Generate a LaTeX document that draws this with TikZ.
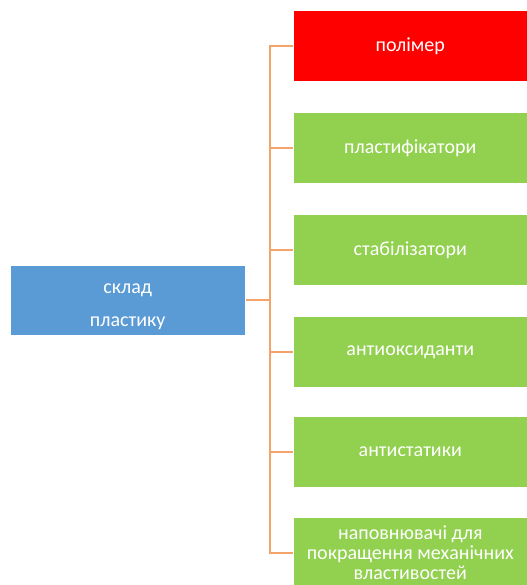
\documentclass[tikz,border=0pt]{standalone}
\usepackage{fontspec}
\setmainfont{Carlito}
\definecolor{cred}{HTML}{FF0000}
\definecolor{cgreen}{HTML}{92D050}
\definecolor{cblue}{HTML}{5B9BD5}
\definecolor{cline}{HTML}{F4A46A}
\begin{document}
\begin{tikzpicture}[x=0.75pt,y=-0.75pt,
  box/.style={draw=white,line width=0.4pt,minimum width=234*0.75pt,minimum height=71*0.75pt,inner sep=2pt,text=white,font=\fontsize{15}{16}\selectfont,align=center,anchor=west},
  link/.style={draw=cline,line width=1pt}]
\useasboundingbox (0,0) rectangle (527,585);
\clip (0,0) rectangle (527,585);
\fill[white] (0,0) rectangle (527,585);
\node[box,fill=cblue,minimum width=235*0.75pt,minimum height=70*0.75pt,font=\fontsize{15}{25}\selectfont] (root) at (10,300) {\rule{0pt}{17pt}склад\\пластику};
\node[box,fill=cred] (b1) at (293,46) {полімер};
\node[box,fill=cgreen] (b2) at (293,148) {пластифікатори};
\node[box,fill=cgreen] (b3) at (293,250) {стабілізатори};
\node[box,fill=cgreen] (b4) at (293,352) {антиоксиданти};
\node[box,fill=cgreen] (b5) at (293,452) {антистатики};
\node[box,fill=cgreen,font=\fontsize{15}{15}\selectfont] (b6) at (293,553) {наповнювачі для\\покращення механічних\\властивостей};
\coordinate (t) at (270,300);
\draw[link] (root.east) -- (t);
\foreach \b in {b1,b2,b3,b4,b5,b6}{
  \draw[link] (t) |- (\b.west);
}
\end{tikzpicture}
\end{document}
